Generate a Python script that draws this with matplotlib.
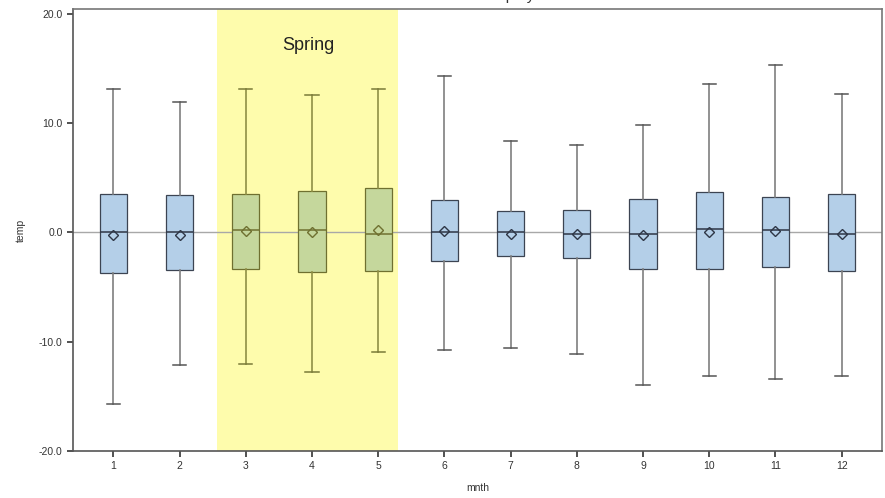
import matplotlib
matplotlib.use("Agg")
import matplotlib.pyplot as plt

plt.rcParams["font.family"] = ["Liberation Sans", "DejaVu Sans"]

# Monthly temperature distribution summaries
months = [1, 2, 3, 4, 5, 6, 7, 8, 9, 10, 11, 12]
whisker_high = [13.1, 11.95, 13.1, 12.6, 13.15, 14.35, 8.35, 8.0, 9.8, 13.6, 15.35, 12.7]
q3_values = [3.5, 3.4, 3.5, 3.8, 4.1, 3.0, 2.0, 2.1, 3.05, 3.7, 3.25, 3.5]
median_values = [0.05, 0.05, 0.25, 0.2, -0.1, 0.0, 0.0, -0.1, -0.1, 0.3, 0.2, -0.1]
mean_values = [-0.2, -0.2, 0.15, 0.0, 0.2, 0.1, -0.1, -0.15, -0.25, 0.05, 0.15, -0.1]
q1_values = [-3.7, -3.4, -3.3, -3.6, -3.5, -2.6, -2.2, -2.3, -3.3, -3.3, -3.15, -3.5]
whisker_low = [-15.7, -12.15, -12.05, -12.8, -10.9, -10.75, -10.6, -11.1, -14.0, -13.1, -13.4, -13.1]

spring_months = [3, 4, 5]
spring_span = (2.57, 5.305)
y_ticks = [-20, -10, 0, 10, 20]

fig = plt.figure(figsize=(8.85, 4.98), dpi=100)
ax = fig.add_axes([73 / 885, 47 / 498, (882 - 73) / 885, (451 - 9) / 498])

stats = []
for m, lo, a, med, mu, b, hi in zip(months, whisker_low, q1_values, median_values,
                                    mean_values, q3_values, whisker_high):
    stats.append(dict(label=str(m), whislo=lo, q1=a, med=med, mean=mu, q3=b, whishi=hi))

# Season highlight band
ax.axvspan(*spring_span, color="#fefcac", zorder=0, lw=0)
ax.text(sum(spring_span) / 2, 17.15, "Spring", ha="center", va="center",
        fontsize=13, color="#222222", zorder=1)

# Reference line at zero
ax.axhline(0, color="#a8a8a8", lw=1.0, zorder=1)

res = ax.bxp(stats, positions=months, widths=0.41, showmeans=True,
             patch_artist=True, showfliers=False,
             boxprops=dict(facecolor="#b4cfe8", edgecolor="#3c4452", linewidth=0.9),
             medianprops=dict(color="#2e3646", linewidth=1.1),
             whiskerprops=dict(color="#7f7f7f", linewidth=1.2),
             capprops=dict(color="#555555", linewidth=1.1),
             capwidths=0.2,
             meanprops=dict(marker="D", markersize=5.5, markerfacecolor="none",
                            markeredgecolor="#2e3646", markeredgewidth=1.0),
             zorder=2)

# Boxes inside the season band take its tint
for i, m in enumerate(months):
    if m in spring_months:
        res["boxes"][i].set_facecolor("#c5d79c")
        res["boxes"][i].set_edgecolor("#6f7030")
        res["medians"][i].set_color("#6f7030")
        res["means"][i].set_markeredgecolor("#6f7030")
        for w in res["whiskers"][2 * i:2 * i + 2]:
            w.set_color("#8f8f45")
        for c in res["caps"][2 * i:2 * i + 2]:
            c.set_color("#7a7a38")

ax.set_xlim(0.39, 12.61)
ax.set_ylim(-20, 20.45)
ax.set_xticks(months)
ax.set_xticklabels([str(m) for m in months])
ax.set_yticks(y_ticks)
ax.set_yticklabels([f"{t:.1f}" for t in y_ticks])
ax.tick_params(axis="both", labelsize=7.5, colors="#333333", length=4, width=1.2,
               labelcolor="#333333")
ax.set_xlabel("mnth", fontsize=7.5, color="#333333", labelpad=8)
ax.set_ylabel("temp", fontsize=7.5, color="#333333", labelpad=9)

for side in ["left", "bottom"]:
    ax.spines[side].set_color("#555555")
    ax.spines[side].set_linewidth(1.2)
for side in ["top", "right"]:
    ax.spines[side].set_color("#777777")
    ax.spines[side].set_linewidth(1.2)

fig.text(0.54, 0.994, "Distribution of temp by mnth", ha="center", va="bottom",
         fontsize=11, color="#333333")

fig.savefig("out.png", dpi=100)
